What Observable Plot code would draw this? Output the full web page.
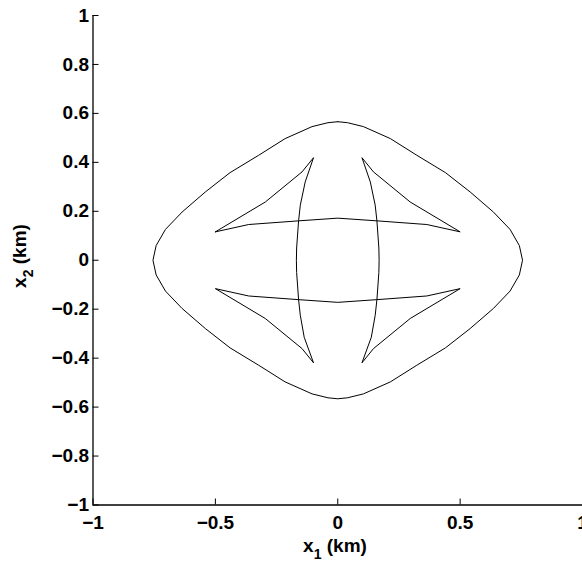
<!DOCTYPE html>
<html><head><meta charset="utf-8">
<script src="https://cdn.jsdelivr.net/npm/d3@7"></script>
<script src="https://cdn.jsdelivr.net/npm/@observablehq/plot@0.6"></script>
<style>
body{margin:0;background:#fff}
g[aria-label="x-axis tick label"], g[aria-label="y-axis tick label"] { font-size: 19px !important; font-weight: bold !important; }
</style>
</head><body><div id="chart"></div>
<script>
const xTicks = [-1, -0.5, 0, 0.5, 1];
const yTicks = [-1, -0.8, -0.6, -0.4, -0.2, 0, 0.2, 0.4, 0.6, 0.8, 1];
const xLabel = ["x", "1", " (km)"];
const yLabel = ["x", "2", " (km)"];

// outer wavefront (closed)
const outerX = [0, 0.04, 0.105, 0.215, 0.323, 0.44, 0.541, 0.636, 0.704, 0.742, 0.755,
  0.742, 0.704, 0.636, 0.541, 0.44, 0.323, 0.215, 0.105, 0.04, 0,
  -0.04, -0.105, -0.215, -0.323, -0.44, -0.541, -0.636, -0.704, -0.742, -0.755,
  -0.742, -0.704, -0.636, -0.541, -0.44, -0.323, -0.215, -0.105, -0.04, 0];
const outerY = [0.566, 0.562, 0.546, 0.497, 0.429, 0.358, 0.279, 0.197, 0.126, 0.06, 0,
  -0.06, -0.126, -0.197, -0.279, -0.358, -0.429, -0.497, -0.546, -0.562, -0.566,
  -0.562, -0.546, -0.497, -0.429, -0.358, -0.279, -0.197, -0.126, -0.06, 0,
  0.06, 0.126, 0.197, 0.279, 0.358, 0.429, 0.497, 0.546, 0.562, 0.566];

// inner wavefront with cusps (closed)
const innerX = [-0.50, -0.296, -0.146, -0.099,
  -0.133, -0.153, -0.160, -0.168, -0.169, -0.168, -0.160, -0.153, -0.137, -0.099,
  -0.146, -0.296, -0.50,
  -0.364, -0.160, 0, 0.160, 0.364, 0.50,
  0.296, 0.146, 0.099,
  0.137, 0.153, 0.160, 0.168, 0.169, 0.168, 0.160, 0.153, 0.133, 0.099,
  0.146, 0.296, 0.50,
  0.364, 0.160, 0, -0.160, -0.364, -0.50];
const innerY = [0.116, 0.238, 0.361, 0.419,
  0.320, 0.225, 0.161, 0.05, 0, -0.05, -0.161, -0.225, -0.315, -0.419,
  -0.361, -0.238, -0.116,
  -0.146, -0.161, -0.172, -0.161, -0.146, -0.116,
  -0.238, -0.361, -0.419,
  -0.315, -0.225, -0.161, -0.05, 0, 0.05, 0.161, 0.225, 0.320, 0.419,
  0.361, 0.238, 0.116,
  0.146, 0.161, 0.172, 0.161, 0.146, 0.116];

const outer = outerX.map((x, i) => ({x, y: outerY[i]}));
const inner = innerX.map((x, i) => ({x, y: innerY[i]}));

const W = 582, H = 561;
const mL = 92.5, mR = 0, mT = 15, mB = 56.5;
const plotW = W - mL - mR, plotH = H - mT - mB;
const fmt = d3.format("~g");
const FONT = "'Liberation Sans', Arial, Helvetica, sans-serif";

const chart = Plot.plot({
  width: W, height: H,
  marginLeft: mL, marginRight: mR, marginTop: mT, marginBottom: mB,
  style: {fontFamily: FONT, fontWeight: "bold", fontSize: "19px", color: "#000", background: "#fff", overflow: "visible"},
  x: {domain: [-1, 1]},
  y: {domain: [-1, 1]},
  marks: [
    Plot.axisX(xTicks, {tickSize: 0, tickPadding: 10, tickFormat: fmt, label: null, fontSize: 19, fontWeight: "bold"}),
    Plot.axisY(yTicks, {tickSize: 0, tickPadding: 4, tickFormat: fmt, label: null, fontSize: 19, fontWeight: "bold"}),
    Plot.tickX(xTicks, {x: d => d, insetTop: plotH - 6, stroke: "#000", strokeWidth: 1}),
    Plot.tickY(yTicks, {y: d => d, insetRight: plotW - 6, stroke: "#000", strokeWidth: 1}),
    Plot.ruleX([-1], {stroke: "#000", strokeWidth: 1.3}),
    Plot.ruleY([-1], {stroke: "#000", strokeWidth: 1.3}),
    Plot.line(outer, {x: "x", y: "y", stroke: "#000", strokeWidth: 1}),
    Plot.line(inner, {x: "x", y: "y", stroke: "#000", strokeWidth: 1})
  ]
});

const svg = d3.select(chart);
function addLabel(parts, x, y, rotate) {
  const t = svg.append("text")
    .attr("transform", `translate(${x},${y})` + (rotate ? " rotate(-90)" : ""))
    .attr("text-anchor", "middle")
    .attr("font-family", FONT).attr("font-weight", "bold").attr("font-size", 19)
    .attr("fill", "#000");
  t.append("tspan").text(parts[0]);
  t.append("tspan").attr("font-size", 14).attr("dy", 7).text(parts[1]);
  t.append("tspan").attr("dy", -7).text(parts[2]);
}
addLabel(xLabel, 335, 552, false);
addLabel(yLabel, 26, 256, true);

document.getElementById("chart").appendChild(chart);
</script>
</body></html>
